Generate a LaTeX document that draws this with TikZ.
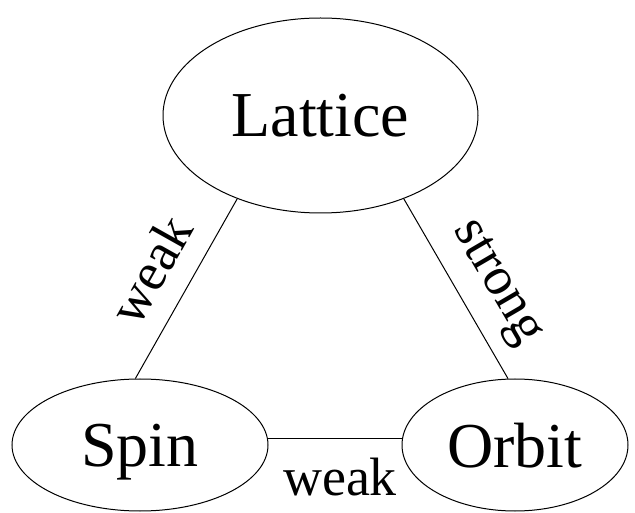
\documentclass[tikz,border=0pt]{standalone}
\usepackage{fontspec}
\setmainfont{Liberation Serif}
\usetikzlibrary{shapes.geometric}
\tikzset{
  blob/.style={draw, ellipse, line width=1pt, inner sep=0pt, text depth=0pt,
    font=\fontsize{64}{70}\selectfont},
  link/.style={draw, line width=1pt},
  linklabel/.style={inner sep=0pt, font=\fontsize{54}{60}\selectfont}
}
\begin{document}
\begin{tikzpicture}[x=1pt, y=1pt]
  \useasboundingbox (0,0) rectangle (635,512);
  % the three coupled subsystems
  \node[blob, minimum width=315pt, minimum height=195pt] (lattice) at (320.5,396.5) {Lattice};
  \node[blob, minimum width=256pt, minimum height=132pt] (spin) at (140,67) {Spin};
  \node[blob, minimum width=226pt, minimum height=132pt] (orbit) at (515,67) {Orbit};
  % couplings between them
  \draw[link] (lattice.225) -- (spin.94);
  \draw[link] (lattice.315) -- (orbit.96);
  \draw[link] (spin.3) -- (spin.3 -| orbit.west);
  % coupling strengths
  \node[linklabel, rotate=60.7] (wl) at (150.5,242) {weak};
  \node[linklabel, rotate=-59.7] (sr) at (495.5,228.5) {strong};
  \node[linklabel, anchor=base] (wb) at (340,17) {weak};
\end{tikzpicture}
\end{document}
